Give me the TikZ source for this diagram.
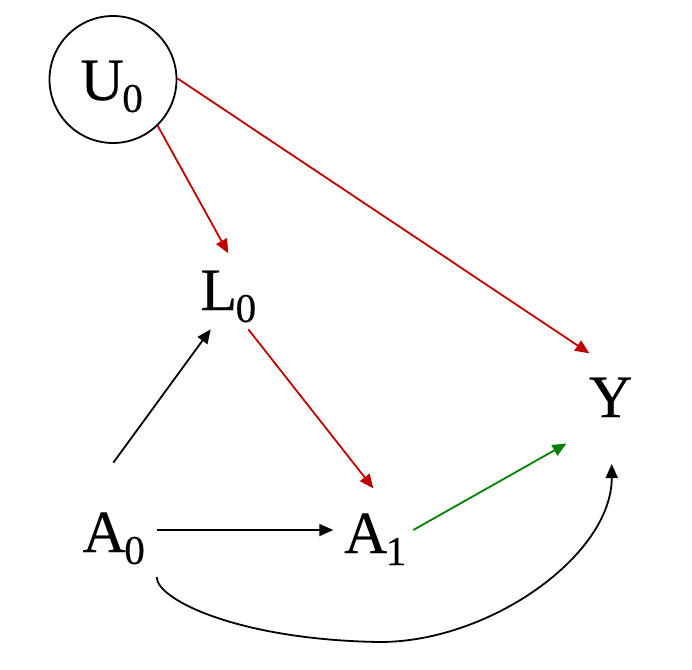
\documentclass[tikz,border=0pt]{standalone}
\usepackage{fontspec}
\setmainfont{Liberation Serif}
\newfontfamily\tnrfont[FakeBold=0.3]{Liberation Serif}
\usetikzlibrary{arrows.meta,calc}
\newcommand{\vlab}[2]{\tnrfont\fontsize{60}{60}\selectfont #1\kern-1.5pt\raisebox{-12pt}{\fontsize{41}{41}\selectfont #2}}
\definecolor{cred}{RGB}{192,0,0}
\definecolor{cgreen}{RGB}{0,128,0}
\begin{document}
\begin{tikzpicture}[x=1pt,y=-1pt,
  lbl/.style={inner sep=0pt,outer sep=0pt,anchor=base west},
  conn/.style={line width=1.8pt,-{Triangle[length=14pt,width=12pt]}}]
\useasboundingbox (0,0) rectangle (692,669);
\node[circle,draw,line width=1.8pt,minimum size=127pt,inner sep=0pt] (U0) at (113,79.5) {};
\node[lbl] (U0t) at (80.5,100) {\vlab{U}{0}};
\node[lbl] (L0) at (200.5,310) {\vlab{L}{0}};
\node[lbl] (A0) at (82.5,552) {\vlab{A}{0}};
\node[lbl] (A1) at (344,553) {\vlab{A}{1}};
\node[lbl] (Y) at (589,417) {\tnrfont\fontsize{60}{60}\selectfont Y};
\draw[conn,cred] (U0.-46) -- ($(L0.base west)+(27.8,-56.7)$);
\draw[conn,cred] (U0.1) -- ($(Y.base west)+(0.3,-63.7)$);
\draw[conn] ($(A0.base west)+(30.8,-89.3)$) -- ($(L0.base west)+(10.2,19.3)$);
\draw[conn,cred] ($(L0.base west)+(47.8,19.3)$) -- ($(A1.base west)+(29.3,-64.7)$);
\draw[conn] ($(A0.base west)+(74.2,-22)$) -- ($(A1.base west)+(-10.7,-23)$);
\draw[conn,cgreen] ($(A1.base west)+(69.3,-23)$) -- ($(Y.base west)+(-22.5,26.5)$);
\draw[conn] ($(A0.base west)+(74.2,25)$) .. controls (156.7,600) and (240,640) .. (380,642) .. controls (490,642) and (612,555) .. ($(Y.base west)+(22.7,47)$);
\end{tikzpicture}
\end{document}
